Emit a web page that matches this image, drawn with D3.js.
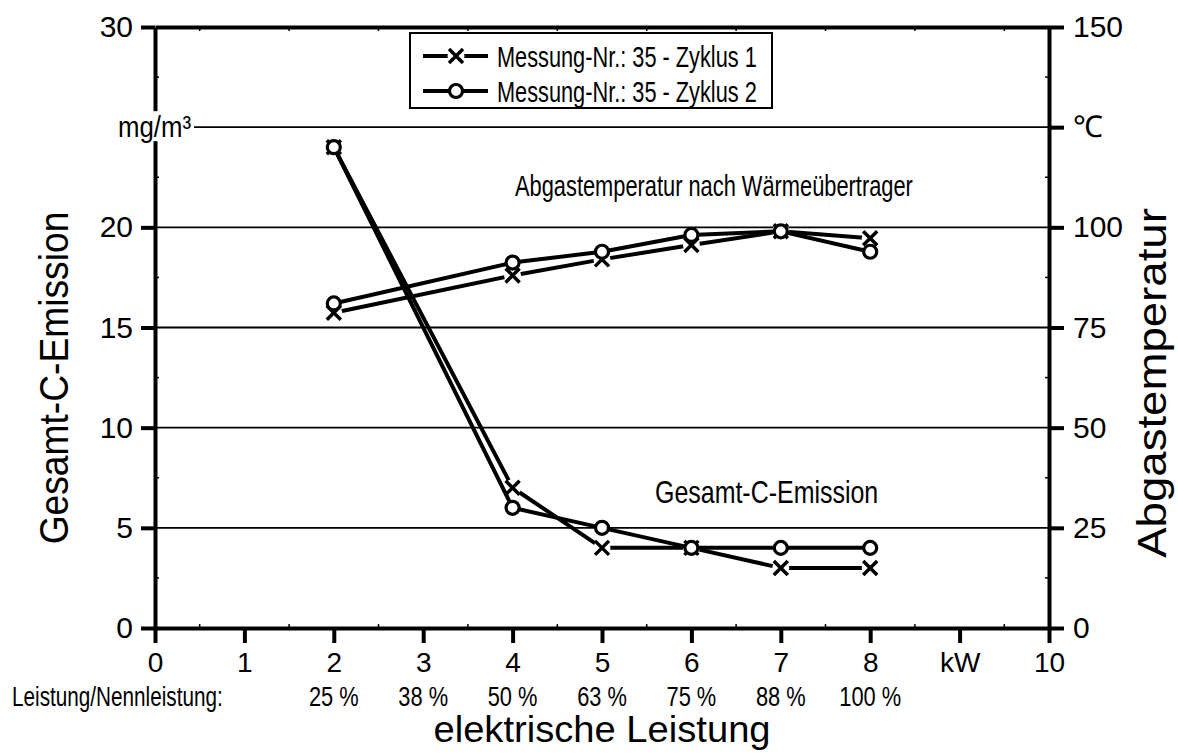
<!DOCTYPE html>
<html>
<head>
<meta charset="utf-8">
<script src="https://cdn.jsdelivr.net/npm/d3@7/dist/d3.min.js"></script>
<style>
  html, body { margin: 0; padding: 0; background: #fff; }
  svg text { font-family: "Liberation Sans", Arial, sans-serif; fill: #000; }
</style>
</head>
<body>
<svg id="chart" width="1178" height="754"></svg>
<script>
// Electrical output (kW) at each operating point
const power = [2, 4, 5, 6, 7, 8];

// Total carbon emission, mg/m³ (left axis)
const emissionCycle1 = [24, 7, 4, 4, 3, 3];
const emissionCycle2 = [24, 6, 5, 4, 4, 4];

// Flue gas temperature after heat exchanger, °C (right axis)
const tempCycle1 = [78.7, 88, 92, 95.6, 99, 97.3];
const tempCycle2 = [81, 91.2, 93.9, 98.1, 99, 93.9];

// Axis ticks and their labels
const xTicks = [0, 1, 2, 3, 4, 5, 6, 7, 8, 9, 10];
const xTickLabels = ["0", "1", "2", "3", "4", "5", "6", "7", "8", "kW", "10"];
const loadTicks = [2, 3, 4, 5, 6, 7, 8];
const loadLabels = ["25 %", "38 %", "50 %", "63 %", "75 %", "88 %", "100 %"];
const leftTicks = [0, 5, 10, 15, 20, 25, 30];
const leftLabels = ["0", "5", "10", "15", "20", "", "30"];
const leftUnit = "mg/m³";
const rightTicks = [0, 25, 50, 75, 100, 125, 150];
const rightLabels = ["0", "25", "50", "75", "100", "℃", "150"];

const seriesNames = ["Messung-Nr.: 35 - Zyklus 1", "Messung-Nr.: 35 - Zyklus 2"];

const svg = d3.select("#chart");

const x = d3.scaleLinear().domain([0, 10]).range([155, 1049]);
const yL = d3.scaleLinear().domain([0, 30]).range([628, 27]);
const yR = d3.scaleLinear().domain([0, 150]).range([628, 27]);

const AXIS_W = 4;
const LINE_W = 4;

// condensed text helper (narrow face)
function narrowText(parent, px, py, str, size, sx, anchor, rot) {
  return parent.append("text")
    .attr("transform", `translate(${px},${py})` + (rot ? ` rotate(${rot})` : "") + ` scale(${sx},1)`)
    .attr("text-anchor", anchor)
    .style("font-size", size + "px")
    .text(str);
}

// horizontal grid lines
const grid = svg.append("g");
grid.selectAll("line")
  .data(leftTicks.filter(d => d > 0 && d < 30))
  .join("line")
  .attr("x1", x(0)).attr("x2", x(10))
  .attr("y1", d => yL(d)).attr("y2", d => yL(d))
  .attr("stroke", "#000").attr("stroke-width", 1.8);

// minor ticks at half steps, pointing into the plot
const minor = svg.append("g").attr("stroke", "#000").attr("stroke-width", 1.5);
d3.range(0.5, 10, 1).forEach(v => {
  minor.append("line").attr("x1", x(v)).attr("x2", x(v)).attr("y1", yL(0)).attr("y2", yL(0) - 4);
  minor.append("line").attr("x1", x(v)).attr("x2", x(v)).attr("y1", yL(30)).attr("y2", yL(30) + 4);
});
d3.range(2.5, 30, 5).forEach(v => {
  minor.append("line").attr("x1", x(0)).attr("x2", x(0) + 4).attr("y1", yL(v)).attr("y2", yL(v));
  minor.append("line").attr("x1", x(10)).attr("x2", x(10) - 4).attr("y1", yL(v)).attr("y2", yL(v));
});

// axes
function styleAxis(g) {
  g.attr("font-family", null);
  g.select(".domain").attr("stroke", "#000").attr("stroke-width", AXIS_W);
  g.selectAll(".tick line").attr("stroke", "#000").attr("stroke-width", AXIS_W);
  g.selectAll(".tick text").attr("fill", "#000");
}

const xAxis = svg.append("g")
  .attr("transform", `translate(0,${yL(0)})`)
  .call(d3.axisBottom(x).tickValues(xTicks).tickSizeInner(15).tickSizeOuter(0).tickPadding(9)
    .tickFormat((d, i) => xTickLabels[i]))
  .call(styleAxis);
xAxis.selectAll(".tick text").style("font-size", "28px");

svg.append("g")
  .attr("transform", `translate(0,${yL(30)})`)
  .call(d3.axisTop(x).tickValues([]).tickSizeOuter(0))
  .call(styleAxis);

const leftAxis = svg.append("g")
  .attr("transform", `translate(${x(0)},0)`)
  .call(d3.axisLeft(yL).tickValues(leftTicks).tickSizeInner(14).tickSizeOuter(0).tickPadding(8)
    .tickFormat((d, i) => leftLabels[i]))
  .call(styleAxis);
leftAxis.selectAll(".tick text").style("font-size", "30px");

const rightAxis = svg.append("g")
  .attr("transform", `translate(${x(10)},0)`)
  .call(d3.axisRight(yR).tickValues(rightTicks).tickSizeInner(15).tickSizeOuter(0).tickPadding(9)
    .tickFormat((d, i) => rightLabels[i]))
  .call(styleAxis);
rightAxis.selectAll(".tick text").style("font-size", "30px");

// concentration unit beside the 25 tick, on an opaque label box
svg.append("rect").attr("x", 116).attr("y", yL(25) - 16).attr("width", 78).attr("height", 30)
  .attr("fill", "#fff");
narrowText(svg, 118, yL(25) + 10, leftUnit, 30, 0.86, "start");

// load ratio row under the kW ticks
const loadRow = svg.append("g");
narrowText(loadRow, 12, 706, "Leistung/Nennleistung:", 28, 0.74, "start");
loadTicks.forEach((t, i) => narrowText(loadRow, x(t), 706, loadLabels[i], 28, 0.78, "middle"));

// axis titles
narrowText(svg, (x(0) + x(10)) / 2, 742, "elektrische Leistung", 36, 1.06, "middle");
narrowText(svg, 68, 378, "Gesamt-C-Emission", 40, 0.93, "middle", -90);
narrowText(svg, 1166, 383, "Abgastemperatur", 40, 1.14, "middle", -90);

// curve annotations
narrowText(svg, 515, 196, "Abgastemperatur nach Wärmeübertrager", 30, 0.728, "start");
narrowText(svg, 655, 503, "Gesamt-C-Emission", 32, 0.78, "start");

// series drawing
function drawMarker(g, kind, cx, cy) {
  if (kind === "x") {
    g.append("circle").attr("cx", cx).attr("cy", cy).attr("r", 8.5).attr("fill", "#fff");
    g.append("path")
      .attr("d", `M${cx - 7},${cy - 7}L${cx + 7},${cy + 7}M${cx - 7},${cy + 7}L${cx + 7},${cy - 7}`)
      .attr("stroke", "#000").attr("stroke-width", 3.5).attr("fill", "none");
  } else {
    g.append("circle").attr("cx", cx).attr("cy", cy).attr("r", 6.5)
      .attr("fill", "#fff").attr("stroke", "#000").attr("stroke-width", 3.2);
  }
}

function drawSeries(values, yScale, kind) {
  const g = svg.append("g");
  const line = d3.line().x((d, i) => x(power[i])).y(d => yScale(d));
  g.append("path").datum(values).attr("d", line)
    .attr("fill", "none").attr("stroke", "#000").attr("stroke-width", LINE_W)
    .attr("stroke-linejoin", "round");
  values.forEach((v, i) => drawMarker(g, kind, x(power[i]), yScale(v)));
}

drawSeries(tempCycle1, yR, "x");
drawSeries(tempCycle2, yR, "o");
drawSeries(emissionCycle1, yL, "x");
drawSeries(emissionCycle2, yL, "o");

// legend
const legend = svg.append("g");
legend.append("rect").attr("x", 410).attr("y", 33).attr("width", 362).attr("height", 75)
  .attr("fill", "#fff").attr("stroke", "#000").attr("stroke-width", 2);
["x", "o"].forEach((kind, i) => {
  const ly = 56 + i * 35;
  legend.append("line").attr("x1", 423).attr("x2", 488).attr("y1", ly).attr("y2", ly)
    .attr("stroke", "#000").attr("stroke-width", LINE_W);
  drawMarker(legend, kind, 456, ly);
  narrowText(legend, 497, ly + 11, seriesNames[i], 30, 0.725, "start");
});
</script>
</body>
</html>
